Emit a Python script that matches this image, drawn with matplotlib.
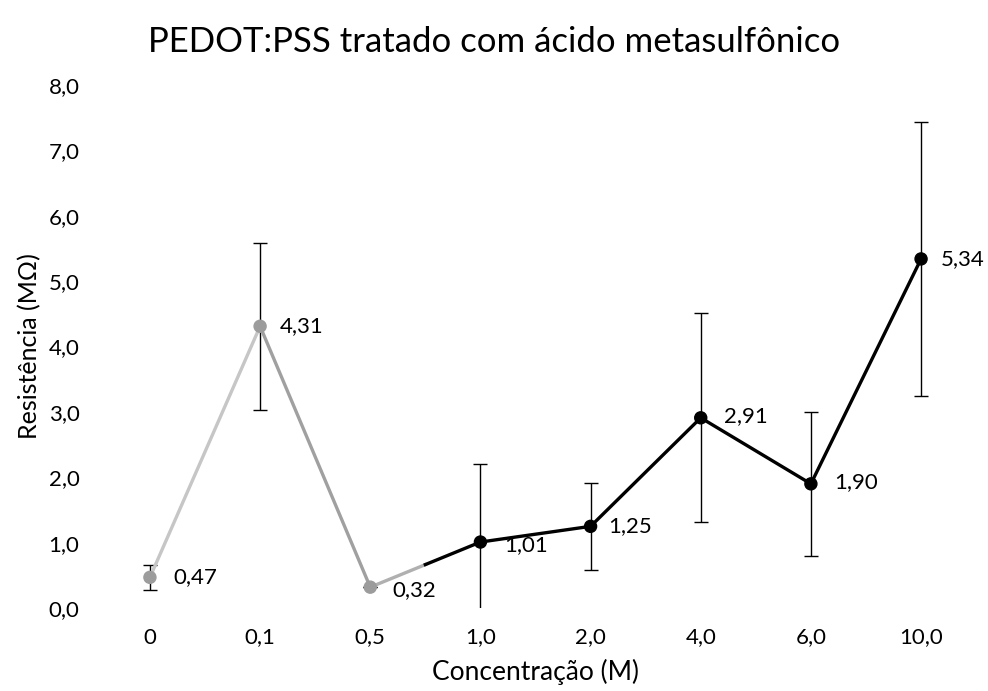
import numpy as np
import matplotlib.pyplot as plt

plt.rcParams['font.family'] = ['Lato', 'DejaVu Sans']

concentracao = ['0', '0,1', '0,5', '1,0', '2,0', '4,0', '6,0', '10,0']
resistencia = [0.47, 4.31, 0.32, 1.01, 1.25, 2.91, 1.90, 5.34]
erro = [0.19, 1.28, 0.0, 1.2, 0.67, 1.6, 1.1, 2.1]
rotulos = ['0,47', '4,31', '0,32', '1,01', '1,25', '2,91', '1,90', '5,34']

# cor de cada segmento e de cada marcador
cor_seg = ['#c6c6c6', '#a0a0a0', None, 'black', 'black', 'black', 'black']
cor_pt = ['#9c9c9c', '#9c9c9c', '#9c9c9c', 'black', 'black', 'black', 'black', 'black']
offsets = [(17, 0), (14, 0), (16, -2), (17, -2), (13, 0), (17, 1), (17, 1), (14, 0)]

x = np.arange(len(concentracao))

fig = plt.figure(figsize=(9.88, 6.91), dpi=100)
ax = fig.add_axes([0.096, 0.120, 0.892, 0.757])

ax.errorbar(x, resistencia, yerr=erro, fmt='none', ecolor='black',
            elinewidth=1.0, capsize=5, capthick=1.0, zorder=1)

for i in range(len(x) - 1):
    xs, ys = x[i:i + 2], resistencia[i:i + 2]
    if cor_seg[i] is None:
        # trecho que passa de cinza para preto
        xm, ym = np.mean(xs), np.mean(ys)
        ax.plot([xs[0], xm], [ys[0], ym], color='#b0b0b0', lw=2.4, zorder=2)
        ax.plot([xm, xs[1]], [ym, ys[1]], color='black', lw=2.4, zorder=2)
    else:
        ax.plot(xs, ys, color=cor_seg[i], lw=2.4, zorder=2)

ax.scatter(x, resistencia, s=75, c=cor_pt, zorder=3)

for i in range(len(x)):
    ax.annotate(rotulos[i], (x[i], resistencia[i]), xytext=offsets[i],
                textcoords='offset points', fontsize=16, va='center', ha='left')

ax.set_xlim(-0.5, 7.5)
ax.set_ylim(0, 8)
ax.set_xticks(x)
ax.set_xticklabels(concentracao)
ax.set_yticks(np.arange(0, 9, 1))
ax.set_yticklabels([f'{v:.1f}'.replace('.', ',') for v in range(9)])
ax.tick_params(length=0, labelsize=16)
ax.tick_params(axis='x', pad=14)
ax.tick_params(axis='y', pad=11)
for s in ax.spines.values():
    s.set_visible(False)

ax.set_xlabel('Concentração (M)', fontsize=19, labelpad=8)
ax.set_ylabel('Resistência (MΩ)', fontsize=18, labelpad=5)
fig.suptitle('PEDOT:PSS tratado com ácido metasulfônico', fontsize=25, y=0.963)

fig.savefig('out.png', dpi=100)
